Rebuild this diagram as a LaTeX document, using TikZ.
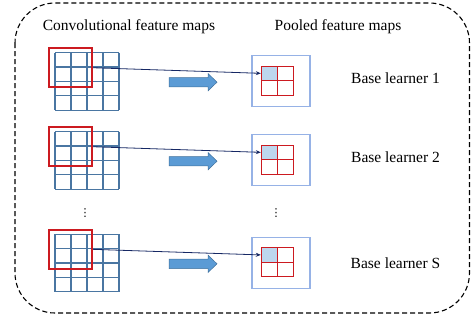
\documentclass[tikz,border=0pt]{standalone}
\usepackage{fontspec}
\setmainfont{Liberation Serif}
\newfontfamily\dotsfont{DejaVu Sans}
\usetikzlibrary{arrows.meta}
\definecolor{gridblue}{RGB}{74,118,162}
\definecolor{winred}{RGB}{204,26,32}
\definecolor{poolblue}{RGB}{150,178,230}
\definecolor{cellfill}{RGB}{189,215,238}
\definecolor{arrowfill}{RGB}{91,155,213}
\definecolor{arrowline}{RGB}{65,113,156}
\definecolor{connc}{RGB}{22,40,100}
\tikzset{
  border/.style={draw=black, line width=1.1pt, dash pattern=on 5pt off 3pt, rounded corners=40pt},
  gridline/.style={draw=gridblue, line width=1.3pt},
  redwin/.style={draw=winred, line width=1.9pt, inner sep=0pt, minimum width=43pt, minimum height=38.7pt},
  poolbox/.style={draw=poolblue, line width=1.5pt, inner sep=0pt, minimum width=58pt, minimum height=51pt},
  poolgrid/.style={draw=winred, line width=1pt},
  topcell/.style={fill=cellfill, inner sep=0pt, minimum width=16.15pt, minimum height=14.65pt},
  blockarrow/.style={draw=arrowline, line width=0.5pt, fill=arrowfill},
  conn/.style={draw=connc, line width=0.8pt, -{Stealth[length=5pt,width=4pt]}},
  title/.style={font=\fontsize{15.5}{18}\selectfont, inner sep=0pt},
  lab/.style={font=\fontsize{15.5}{18}\selectfont, inner sep=0pt},
  dots/.style={font=\dotsfont\fontsize{11}{13}\selectfont, inner sep=0pt}
}
\begin{document}
\begin{tikzpicture}[x=1pt,y=-1pt]
\useasboundingbox (0,0) rectangle (471,322);
\draw[border] (15,3) rectangle (469.5,313);
\node[title] (convt) at (129,26.5) {Convolutional feature maps};
\node[title] (poolt) at (338,26.5) {Pooled feature maps};
\foreach \G/\L/\n/\ly in {52.7/1/a/78.3, 131.7/2/b/157.5, 234.3/S/c/263.3} {
  % convolutional grid 4x4
  \foreach \i in {0,...,4} {
    \draw[gridline] ({55+16*\i},\G) -- ({55+16*\i},{\G+57.5});
    \draw[gridline] (55,{\G+14.375*\i}) -- (119,{\G+14.375*\i});
  }
  \node[redwin] (red\n) at (70.8,{\G+15.05}) {};
  % pooled map
  \node[poolbox] (pool\n) at (281,{\G+28.5}) {};
  \node[topcell] (cell\n) at (269.075,{\G+20.625}) {};
  \draw[poolgrid] (261,{\G+13.3}) rectangle (293.3,{\G+42.6});
  \draw[poolgrid] (277.15,{\G+13.3}) -- (277.15,{\G+42.6});
  \draw[poolgrid] (261,{\G+27.95}) -- (293.3,{\G+27.95});
  % block arrow
  \draw[blockarrow] (169,{\G+24.8}) -- (208,{\G+24.8}) -- (208,{\G+20.8}) -- (217,{\G+29.5})
     -- (208,{\G+38.2}) -- (208,{\G+34.2}) -- (169,{\G+34.2}) -- cycle;
  % connector
  \draw[conn] (red\n.east) -- (cell\n.west);
  % label
  \node[lab] (lab\n) at (395.5,\ly) {Base learner \L};
}
\node[dots] (dl) at (85,213) {⋮};
\node[dots] (dr) at (276,213.5) {⋮};
\end{tikzpicture}
\end{document}
